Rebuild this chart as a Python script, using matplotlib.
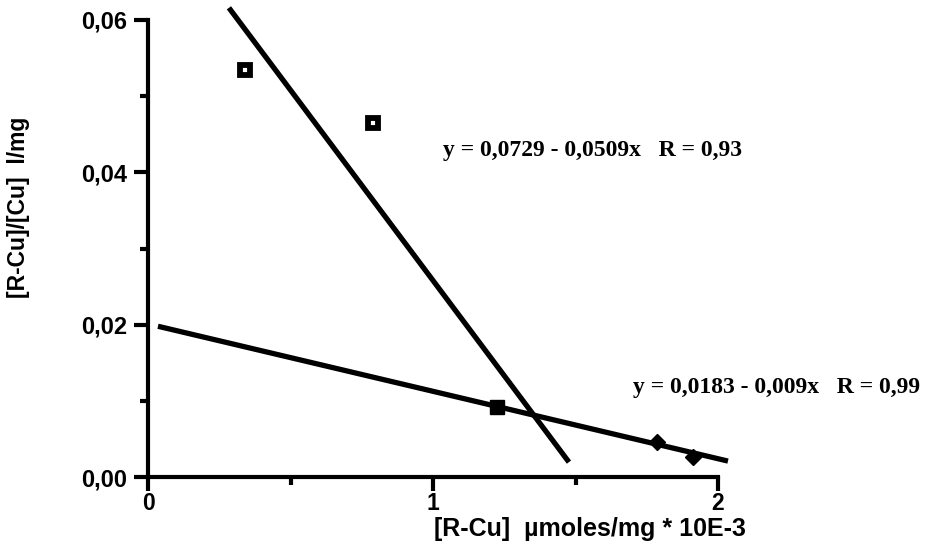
import numpy as np
import matplotlib
matplotlib.use("Agg")
import matplotlib.pyplot as plt

# points
open_x = [0.34, 0.79]
open_y = [0.0534, 0.0465]
filled_sq_x = [1.225]
filled_sq_y = [0.0092]
diamond_x = [1.786, 1.912]
diamond_y = [0.0046, 0.0026]

# fitted lines as drawn: (intercept, slope, x start, x end)
steep_fit = (0.0758, -0.0500, 0.284, 1.477)
flat_fit = (0.0201, -0.00885, 0.035, 2.035)

eq1 = "y = 0,0729 - 0,0509x   R = 0,93"
eq2 = "y = 0,0183 - 0,009x   R = 0,99"

sans = ["Liberation Sans", "DejaVu Sans"]
serif = ["Liberation Serif", "DejaVu Serif"]

fig = plt.figure(figsize=(9.3, 5.57), dpi=100)
ax = fig.add_axes([148 / 930, 1 - 477 / 557, 570 / 930, 457 / 557])

for b, m, x0, x1 in (steep_fit, flat_fit):
    xs = np.array([x0, x1])
    ax.plot(xs, b + m * xs, color="black", lw=3.8, solid_capstyle="butt", clip_on=False)

ax.plot(open_x, open_y, "s", ms=7, mfc="white", mec="black", mew=4.2, clip_on=False)
ax.plot(filled_sq_x, filled_sq_y, "s", ms=9.5, color="black", clip_on=False)
ax.plot(diamond_x, diamond_y, "D", ms=8.5, color="black", clip_on=False)

ax.set_xlim(0, 2)
ax.set_ylim(0, 0.06)
for s in ("top", "right"):
    ax.spines[s].set_visible(False)
for s in ("left", "bottom"):
    ax.spines[s].set_linewidth(3)

ax.set_xticks([0, 1, 2])
ax.set_xticks([0.5, 1.5], minor=True)
ax.set_xticklabels(["0", "1", "2"])
ax.set_yticks([0, 0.02, 0.04, 0.06])
ax.set_yticks([0.01, 0.03, 0.05], minor=True)
ax.set_yticklabels(["0,00", "0,02", "0,04", "0,06"])
ax.tick_params(which="major", direction="out", length=10, width=3, pad=5)
ax.tick_params(which="minor", direction="out", length=6, width=3)
ax.tick_params(axis="x", which="major", pad=1)
for lab in ax.get_yticklabels():
    lab.set_family(sans)
    lab.set_fontweight("bold")
    lab.set_fontsize(17)
for lab in ax.get_xticklabels():
    lab.set_family(sans)
    lab.set_fontweight("bold")
    lab.set_fontsize(16.5)

fig.text(746 / 930, 1 - 529 / 557, "[R-Cu]  \u00b5moles/mg * 10E-3", ha="right", va="center",
         family=sans, fontweight="bold", fontsize=18)
fig.text(19 / 930, 1 - 207 / 557, "[R-Cu]/[Cu]  l/mg", rotation=90, ha="center", va="center",
         family=sans, fontweight="bold", fontsize=16.5)

fig.text(443 / 930, 1 - 156 / 557, eq1, ha="left", va="baseline", family=serif,
         fontweight="bold", fontsize=17)
fig.text(633 / 930, 1 - 393 / 557, eq2, ha="left", va="baseline", family=serif,
         fontweight="bold", fontsize=17)

fig.savefig("out.png", dpi=100)
